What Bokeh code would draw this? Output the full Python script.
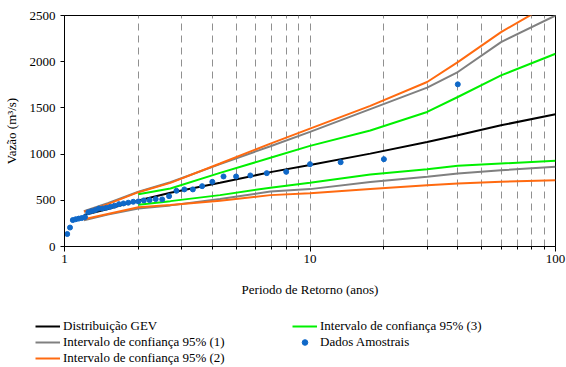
import numpy as np
from bokeh.plotting import figure
from bokeh.models import Range1d, FixedTicker, Legend, LegendItem
from bokeh.layouts import column
from bokeh.embed import file_html
from bokeh.resources import INLINE

# Return periods (years) at which the curves were read
T_curve = [1.2, 1.5, 2, 2.7, 4.3, 6.9, 10, 17.6, 30, 40, 60, 100]
gev = [340, 405, 497, 581, 689, 805, 883, 1005, 1132, 1204, 1312, 1431]
ic1_upper = [382, 468, 592, 695, 892, 1085, 1240, 1487, 1719, 1888, 2212, 2500]
ic1_lower = [285, 345, 412, 445, 513, 595, 621, 697, 754, 790, 826, 862]
ic2_upper = [376, 458, 588, 689, 898, 1114, 1276, 1522, 1780, 1996, 2320, 2660]
ic2_lower = [294, 352, 425, 450, 495, 556, 575, 622, 664, 683, 700, 718]

T_green = [2, 2.7, 4.3, 6.9, 10, 17.6, 30, 40, 60, 100]
ic3_upper = [566, 628, 797, 960, 1089, 1256, 1456, 1618, 1852, 2086]
ic3_lower = [452, 491, 556, 637, 689, 778, 837, 873, 898, 927]

# Sample data (plotting positions)
dados_T = [1.026, 1.053, 1.081, 1.111, 1.143, 1.176, 1.212, 1.25, 1.29, 1.333,
           1.379, 1.429, 1.481, 1.538, 1.6, 1.667, 1.739, 1.818, 1.905, 2.0,
           2.105, 2.222, 2.353, 2.5, 2.667, 2.857, 3.077, 3.333, 3.636, 4.0,
           4.444, 5.0, 5.714, 6.667, 8.0, 10.0, 13.33, 20.0, 40.0]
dados_Q = [135, 205, 286, 295, 302, 308, 318, 372, 383, 394,
           410, 412, 420, 430, 442, 458, 466, 474, 484, 488,
           499, 502, 513, 510, 545, 603, 618, 618, 653, 700,
           758, 758, 769, 794, 808, 891, 912, 945, 1755]

x_major = [1, 10, 100]
x_minor = [2, 3, 4, 5, 6, 7, 8, 9, 20, 30, 40, 50, 60, 70, 80, 90]
y_ticks = [0, 500, 1000, 1500, 2000, 2500]

labels = ["Distribuição GEV", "Intervalo de confiança 95% (1)",
          "Intervalo de confiança 95% (2)", "Intervalo de confiança 95% (3)",
          "Dados Amostrais"]

FONT = "Liberation Serif"
BLACK = "#000000"
GRAY = "#808080"
ORANGE = "#FF6A10"
GREEN = "#00F000"
BLUE = "#0F68C8"
LW = 2

p = figure(width=566, height=305, x_axis_type="log",
           x_range=Range1d(1, 100), y_range=Range1d(0, 2500),
           output_backend="svg", toolbar_location=None,
           min_border_left=64, min_border_right=11,
           min_border_top=15, min_border_bottom=59)

p.background_fill_color = "white"
p.border_fill_color = "white"
p.outline_line_color = "black"
p.outline_line_width = 1

xt = FixedTicker(ticks=x_major, minor_ticks=x_minor)
p.xaxis.ticker = xt
p.xgrid.ticker = xt
p.xaxis.major_label_overrides = {1: "1", 10: "10", 100: "100"}
p.yaxis.ticker = FixedTicker(ticks=y_ticks)

p.xgrid.grid_line_color = "#909090"
p.xgrid.grid_line_dash = "7 5"
p.xgrid.grid_line_width = 1
p.xgrid.minor_grid_line_color = "#909090"
p.xgrid.minor_grid_line_dash = "7 5"
p.xgrid.minor_grid_line_width = 1
p.ygrid.grid_line_color = None

for ax in (p.xaxis[0], p.yaxis[0]):
    ax.axis_line_color = "black"
    ax.major_tick_line_color = "black"
    ax.minor_tick_line_color = "black"
    ax.major_tick_in = 0
    ax.minor_tick_in = 0
    ax.major_label_text_font = FONT
    ax.major_label_text_font_size = "13px"
    ax.major_label_text_color = "black"
    ax.axis_label_text_font = FONT
    ax.axis_label_text_font_size = "13px"
    ax.axis_label_text_font_style = "normal"
    ax.axis_label_text_color = "black"

p.xaxis.major_tick_out = 5
p.xaxis.minor_tick_out = 3
p.xaxis.major_label_standoff = 3
p.xaxis.axis_label = "Periodo de Retorno (anos)"
p.xaxis.axis_label_standoff = 16

p.yaxis.major_tick_out = 4
p.yaxis.minor_tick_out = 0
p.yaxis.major_label_standoff = 5
p.yaxis.axis_label = "Vazão (m³/s)"
p.yaxis.axis_label_standoff = 8

p.line(T_curve, ic1_upper, line_color=GRAY, line_width=LW)
p.line(T_curve, ic1_lower, line_color=GRAY, line_width=LW)
p.line(T_curve, ic2_upper, line_color=ORANGE, line_width=LW)
p.line(T_curve, ic2_lower, line_color=ORANGE, line_width=LW)
p.line(T_green, ic3_upper, line_color=GREEN, line_width=LW)
p.line(T_green, ic3_lower, line_color=GREEN, line_width=LW)
p.line(T_curve, gev, line_color=BLACK, line_width=LW)
p.scatter(dados_T, dados_Q, size=5, fill_color=BLUE, line_color=BLUE)

# Legend strip below the chart (renderers hold no visible data)
lg = figure(width=566, height=62, output_backend="svg", toolbar_location=None,
            x_axis_location=None, y_axis_location=None,
            x_range=Range1d(0, 1), y_range=Range1d(0, 1),
            min_border=0, min_border_left=0, min_border_right=0,
            min_border_top=0, min_border_bottom=0, outline_line_color=None)
for fig in (p, lg):
    if "frame_align" in fig.properties():
        fig.frame_align = False
lg.grid.grid_line_color = None
lg.background_fill_color = "white"
lg.border_fill_color = "white"
nan2 = np.array([np.nan, np.nan])
r_bk = lg.line(nan2, nan2, line_color=BLACK, line_width=LW)
r_g1 = lg.line(nan2, nan2, line_color=GRAY, line_width=LW)
r_o2 = lg.line(nan2, nan2, line_color=ORANGE, line_width=LW)
r_g3 = lg.line(nan2, nan2, line_color=GREEN, line_width=LW)
r_pt = lg.scatter(nan2, nan2, size=5, fill_color=BLUE, line_color=BLUE)

legend = Legend(items=[
    LegendItem(label=labels[0], renderers=[r_bk]),
    LegendItem(label=labels[1], renderers=[r_g1]),
    LegendItem(label=labels[2], renderers=[r_o2]),
    LegendItem(label=labels[3], renderers=[r_g3]),
    LegendItem(label=labels[4], renderers=[r_pt]),
], location=(35, 1), orientation="vertical", nrows=3)
legend.label_text_font = FONT
legend.label_text_font_size = "13px"
legend.label_text_color = "black"
legend.label_height = 14
legend.glyph_height = 14
legend.glyph_width = 25
legend.label_standoff = 3
legend.label_width = 229
legend.spacing = 0
legend.padding = 0
legend.margin = 0
legend.border_line_color = None
legend.background_fill_alpha = 0
lg.add_layout(legend, "center")

layout = column(p, lg, spacing=0)
open("out.html", "w").write(file_html(layout, INLINE))
